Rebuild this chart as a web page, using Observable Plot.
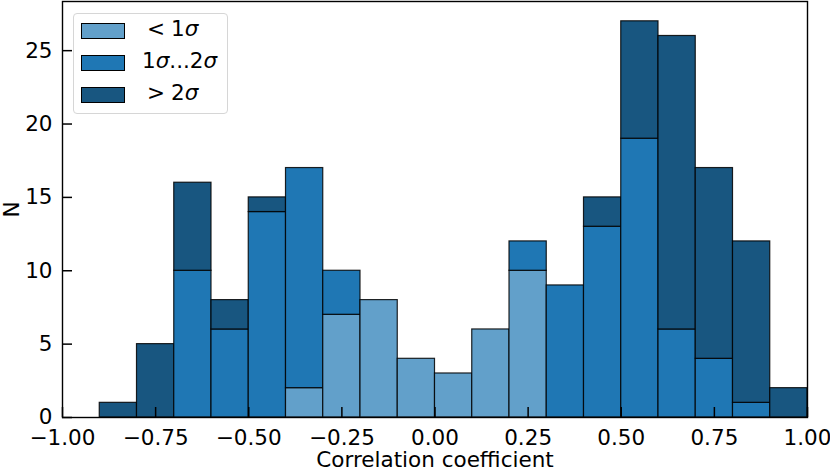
<!DOCTYPE html>
<html>
<head>
<meta charset="utf-8">
<script src="https://cdn.jsdelivr.net/npm/d3@7"></script>
<script src="https://cdn.jsdelivr.net/npm/@observablehq/plot@0.6"></script>
<style>
  html, body { margin: 0; padding: 0; background: white; }
  #wrap { position: relative; width: 830px; height: 469px; font-family: "DejaVu Sans", sans-serif; }
  #wrap svg text { font-family: "DejaVu Sans", sans-serif; font-size: 21.5px; }
  #legend { position: absolute; left: 73px; top: 13px; width: 153px; height: 99px; border: 1px solid #d6d6d6; border-radius: 4px; background: rgba(255,255,255,0.8); }
  .row { position: absolute; left: 7px; height: 20px; font-size: 21.5px; line-height: 20px; color: black; }
  .sw { position: absolute; left: 0; top: 2px; width: 42px; height: 14px; border: 1px solid #000; }
  .lab { position: absolute; top: -2px; white-space: nowrap; }
  .op { display: inline-block; margin-right: 6px; }
  i { font-style: italic; }
</style>
</head>
<body>
<div id="wrap"></div>
<script>
// Bin lower edges (bin width 0.1)
const binStart = [-0.9, -0.8, -0.7, -0.6, -0.5, -0.4, -0.3, -0.2, -0.1, 0.0, 0.1, 0.2, 0.3, 0.4, 0.5, 0.6, 0.7, 0.8, 0.9];
const binWidth = 0.1;
const below1 = [0, 0, 0, 0, 0, 2, 7, 8, 4, 3, 6, 10, 0, 0, 0, 0, 0, 0, 0];
const between = [0, 0, 10, 6, 14, 15, 3, 0, 0, 0, 0, 2, 9, 13, 19, 6, 4, 1, 0];
const above2 = [1, 5, 6, 2, 1, 0, 0, 0, 0, 0, 0, 0, 0, 2, 8, 20, 13, 11, 2];
const seriesNames = ["< 1σ", "1σ...2σ", "> 2σ"];
const seriesColors = ["#62a0ca", "#1f77b4", "#185680"];
const xTicks = [-1, -0.75, -0.5, -0.25, 0, 0.25, 0.5, 0.75, 1];
const yTicks = [0, 5, 10, 15, 20, 25];

const seriesValues = [below1, between, above2];
const rows = [];
binStart.forEach((b, i) => {
  seriesValues.forEach((vals, s) => {
    if (vals[i] > 0) rows.push({x1: b, x2: Math.round((b + binWidth) * 10) / 10, n: vals[i], series: seriesNames[s]});
  });
});

const chart = Plot.plot({
  width: 830,
  height: 469,
  marginLeft: 62,
  marginRight: 23,
  marginTop: 1,
  marginBottom: 52,
  style: {fontFamily: "DejaVu Sans", fontSize: "21.5px", color: "black", background: "white", overflow: "visible"},
  x: {domain: [-1, 1]},
  y: {domain: [0, 28.35]},
  color: {domain: seriesNames, range: seriesColors},
  marks: [
    Plot.rectY(rows, Plot.stackY({x1: "x1", x2: "x2", y: "n", fill: "series", stroke: "#000", strokeOpacity: 0.85, strokeWidth: 1.2})),
    Plot.axisY(yTicks, {tickSize: 0, tickPadding: 10, label: "N", labelAnchor: "center", labelOffset: 59, labelArrow: "none"}),
    Plot.axisY(yTicks, {tickSize: 10, dx: 10, tickFormat: () => "", label: null, strokeWidth: 1.5}),
    Plot.axisX(xTicks, {tickSize: 0, tickPadding: 12, tickFormat: d3.format(".2f"), label: "Correlation coefficient", labelAnchor: "center", labelOffset: 49, labelArrow: "none"}),
    Plot.axisX(xTicks, {tickSize: 10, dy: -10, tickFormat: () => "", label: null, strokeWidth: 1.5}),
    Plot.frame({stroke: "#000", strokeWidth: 1.4})
  ]
});

const wrap = document.getElementById("wrap");
wrap.appendChild(chart);

const legend = document.createElement("div");
legend.id = "legend";
const labelsHtml = ["<span class='op'>&lt;</span>1<i>σ</i>", "1<i>σ</i>...2<i>σ</i>", "<span class='op'>&gt;</span>2<i>σ</i>"];
const labelLeft = [66, 61, 66];
seriesNames.forEach((name, i) => {
  const row = document.createElement("div");
  row.className = "row";
  row.style.top = (7 + i * 32) + "px";
  const sw = document.createElement("div");
  sw.className = "sw";
  sw.style.background = seriesColors[i];
  const lab = document.createElement("div");
  lab.className = "lab";
  lab.style.left = labelLeft[i] + "px";
  lab.innerHTML = labelsHtml[i];
  row.appendChild(sw);
  row.appendChild(lab);
  legend.appendChild(row);
});
wrap.appendChild(legend);
</script>
</body>
</html>
